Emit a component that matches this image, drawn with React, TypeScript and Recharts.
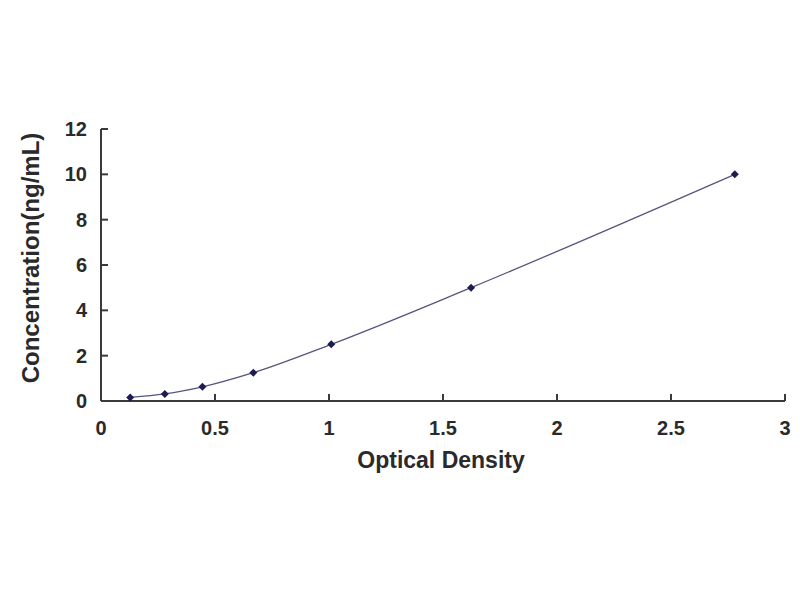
import React from 'react';
import { LineChart, Line, XAxis, YAxis, Label } from 'recharts';

const opticalDensity = [0.128, 0.28, 0.445, 0.668, 1.01, 1.623, 2.78];
const concentration = [0.156, 0.312, 0.625, 1.25, 2.5, 5, 10];
const xTicks = [0, 0.5, 1, 1.5, 2, 2.5, 3];
const yTicks = [0, 2, 4, 6, 8, 10, 12];

const data = opticalDensity.map((od, i) => ({ od, conc: concentration[i] }));

const FONT = '"Liberation Sans", Arial, sans-serif';
const AXIS = '#3a3a3a';
const TEXT = '#2a2a2a';

const XTick = (props: any) => {
  const { x, y, payload } = props;
  return (
    <g>
      <line x1={x} y1={y} x2={x} y2={y - 7} stroke={AXIS} strokeWidth={2} />
      <text x={x} y={y + 34} textAnchor="middle" fontFamily={FONT} fontWeight="bold" fontSize={20} fill={TEXT}>
        {payload.value}
      </text>
    </g>
  );
};

const YTick = (props: any) => {
  const { x, y, payload } = props;
  return (
    <g>
      <line x1={x} y1={y} x2={x + 7} y2={y} stroke={AXIS} strokeWidth={2} />
      <text x={x - 14} y={y} dy="0.35em" textAnchor="end" fontFamily={FONT} fontWeight="bold" fontSize={20} fill={TEXT}>
        {payload.value}
      </text>
    </g>
  );
};

const Diamond = (props: any) => {
  const { cx, cy } = props;
  if (cx == null || cy == null) return null;
  const s = 4;
  return <path d={`M${cx},${cy - s}L${cx + s},${cy}L${cx},${cy + s}L${cx - s},${cy}Z`} fill="#1c1c52" />;
};

export default function App() {
  return (
    <div style={{ position: 'absolute', left: 0, top: 0, width: 800, height: 600, background: '#fff' }}>
      <LineChart width={800} height={600} data={data} margin={{ top: 129, right: 15, bottom: 119, left: 0 }}>
        <XAxis
          dataKey="od"
          type="number"
          domain={[0, 3]}
          ticks={xTicks}
          interval={0}
          height={80}
          tickSize={0}
          tickMargin={0}
          tick={<XTick />}
          tickLine={false}
          axisLine={{ stroke: AXIS, strokeWidth: 2 }}
        >
          <Label
            content={(p: any) => {
              const vb = p.viewBox;
              return (
                <text x={vb.x + vb.width / 2 - 2} y={468} textAnchor="middle" fontFamily={FONT} fontWeight="bold" fontSize={23} fill={TEXT}>
                  Optical Density
                </text>
              );
            }}
          />
        </XAxis>
        <YAxis
          type="number"
          domain={[0, 12]}
          ticks={yTicks}
          interval={0}
          width={101}
          tickSize={0}
          tickMargin={0}
          tick={<YTick />}
          tickLine={false}
          axisLine={{ stroke: AXIS, strokeWidth: 2 }}
        >
          <Label
            content={() => (
              <text
                x={31}
                y={258}
                transform="rotate(-90, 31, 258)"
                dy="0.35em"
                textAnchor="middle"
                fontFamily={FONT}
                fontWeight="bold"
                fontSize={24}
                fill={TEXT}
              >
                Concentration(ng/mL)
              </text>
            )}
          />
        </YAxis>
        <Line
          dataKey="conc"
          type="monotone"
          stroke="#55557f"
          strokeWidth={1.3}
          dot={<Diamond />}
          activeDot={false}
          isAnimationActive={false}
        />
      </LineChart>
    </div>
  );
}
